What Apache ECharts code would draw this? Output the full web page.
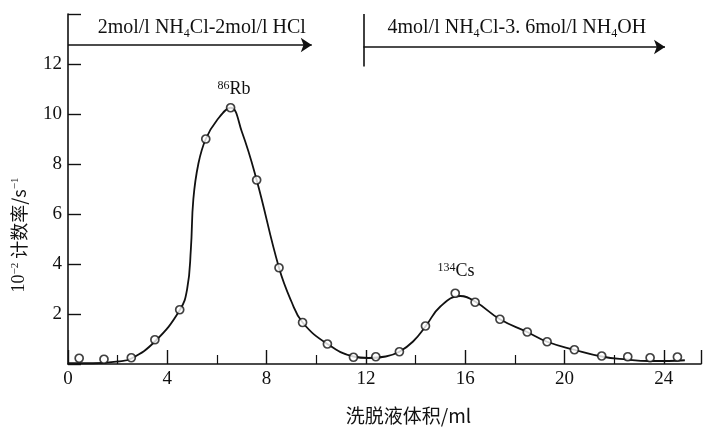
<!DOCTYPE html>
<html lang="zh">
<head>
    <meta charset="UTF-8">
    <title>elution</title>
    <script src="https://cdn.jsdelivr.net/npm/echarts@6/dist/echarts.min.js"></script>
    <style>
        html, body { margin: 0; padding: 0; background: #fff; }
    </style>
</head>
<body>
<div id="main" style="width: 704px;height:430px;"></div>
<script type="text/javascript">
    // measured points (ml, 10^-2 counts/s)
    var pointX = [0.45, 1.45, 2.55, 3.5, 4.5, 5.55, 6.55, 7.6, 8.5, 9.45, 10.45, 11.5,
                  12.4, 13.35, 14.4, 15.6, 16.4, 17.4, 18.5, 19.3, 20.4, 21.5, 22.55, 23.45, 24.55];
    var pointY = [0.23, 0.19, 0.25, 0.97, 2.17, 9.0, 10.25, 7.36, 3.85, 1.66, 0.8, 0.27,
                  0.29, 0.49, 1.52, 2.83, 2.47, 1.79, 1.28, 0.89, 0.57, 0.32, 0.29, 0.25, 0.28];

    // hand drawn curve
    var curveX = [0, 1, 2, 2.55, 3.5, 4.5, 4.8, 4.95, 5.05, 5.25, 5.55, 6.0, 6.55,
                  7.0, 7.6, 8.5, 9.0, 9.45, 10.45, 11.5, 12.1, 12.8, 13.35, 13.9, 14.4,
                  15.0, 15.8, 16.4, 17.4, 18.5, 19.3, 20.4, 21.5, 22.5, 23.4, 24.2, 24.85];
    var curveY = [0.03, 0.03, 0.1, 0.22, 0.9, 2.15, 3.0, 4.6, 6.6, 8.0, 9.0, 9.75, 10.25,
                  9.3, 7.36, 3.85, 2.5, 1.66, 0.8, 0.3, 0.24, 0.3, 0.49, 0.9, 1.5,
                  2.3, 2.72, 2.5, 1.79, 1.28, 0.89, 0.57, 0.3, 0.18, 0.12, 0.12, 0.15];

    var xTicks = [0, 4, 8, 12, 16, 20, 24];
    var yTicks = [2, 4, 6, 8, 10, 12];

    var serif = 'Liberation Serif';
    var ink = '#111';

    var pts = [], crv = [];
    for (var i = 0; i < pointX.length; i++) pts.push([pointX[i], pointY[i]]);
    for (var j = 0; j < curveX.length; j++) crv.push([curveX[j], curveY[j]]);

    var annoRich = {
        t: { fontFamily: serif, fontSize: 20, color: ink },
        sub: { fontFamily: serif, fontSize: 12, color: ink, verticalAlign: 'bottom', padding: [0, 0, -2, 0] },
        p: { fontFamily: serif, fontSize: 18, color: ink },
        sup: { fontFamily: serif, fontSize: 12, color: ink, verticalAlign: 'top' }
    };

    var myChart = echarts.init(document.getElementById('main'));
    var option = {
        animation: false,
        backgroundColor: '#fff',
        grid: { left: 68, right: 0, top: 14, bottom: 66 },
        xAxis: {
            type: 'value',
            min: 0, max: 25.5, interval: 4,
            name: '洗脱液体积/ml',
            nameLocation: 'middle',
            nameGap: 42,
            nameTextStyle: { fontFamily: 'Noto Sans CJK SC', fontSize: 19, color: ink, padding: [0, 0, 0, 48] },
            axisLine: { lineStyle: { color: ink, width: 1.6 } },
            axisTick: { inside: true, length: 14, lineStyle: { color: ink, width: 1.4 } },
            minorTick: { show: true, splitNumber: 2, length: 9, lineStyle: { color: ink, width: 1.2 } },
            splitLine: { show: false },
            axisLabel: {
                margin: 6, fontFamily: serif, fontSize: 19, color: ink,
                formatter: function (v) { return xTicks.indexOf(v) >= 0 ? String(v) : ''; }
            }
        },
        yAxis: {
            type: 'value',
            min: 0, max: 14, interval: 2,
            name: '{a|10}{s|−2}{c| 计数率/s}{s|−1}',
            nameLocation: 'middle',
            nameGap: 40,
            nameRotate: 90,
            nameTextStyle: {
                padding: [0, 92, 0, 0],
                rich: {
                    a: { fontFamily: serif, fontSize: 18, color: ink },
                    c: { fontFamily: 'Noto Sans CJK SC', fontSize: 18, color: ink },
                    s: { fontFamily: serif, fontSize: 11, color: ink, verticalAlign: 'top' }
                }
            },
            axisLine: { lineStyle: { color: ink, width: 1.6 } },
            axisTick: { inside: true, length: 13, lineStyle: { color: ink, width: 1.4 } },
            splitLine: { show: false },
            axisLabel: {
                margin: 6, fontFamily: serif, fontSize: 19, color: ink,
                formatter: function (v) { return yTicks.indexOf(v) >= 0 ? String(v) : ''; }
            }
        },
        series: [
            {
                name: 'curve',
                type: 'line',
                data: crv,
                smooth: 0.45,
                showSymbol: false,
                lineStyle: { color: ink, width: 1.8 },
                markLine: {
                    silent: true,
                    symbol: ['none', 'arrow'],
                    symbolSize: 11,
                    label: { show: false },
                    lineStyle: { color: ink, width: 1.6, type: 'solid' },
                    data: [
                        [{ coord: [0, 12.76] }, { coord: [9.82, 12.76] }],
                        [{ coord: [11.9, 12.68] }, { coord: [24.05, 12.68] }],
                        [{ coord: [11.9, 14], symbol: 'none' }, { coord: [11.9, 11.9], symbol: 'none' }]
                    ]
                },
                markPoint: {
                    silent: true,
                    symbol: 'circle',
                    symbolSize: 0,
                    label: { show: true, position: 'inside', rich: annoRich },
                    data: [
                        { coord: [5.39, 13.44], label: { formatter: '{t|2mol/l NH}{sub|4}{t|Cl-2mol/l HCl}' } },
                        { coord: [18.08, 13.44], label: { formatter: '{t|4mol/l NH}{sub|4}{t|Cl-3. 6mol/l NH}{sub|4}{t|OH}' } },
                        { coord: [6.69, 11.0], label: { formatter: '{sup|86}{p|Rb}' } },
                        { coord: [15.63, 3.72], label: { formatter: '{sup|134}{p|Cs}' } }
                    ]
                }
            },
            {
                name: 'points',
                type: 'scatter',
                data: pts,
                symbol: 'circle',
                symbolSize: 8,
                itemStyle: { color: '#fff', borderColor: ink, borderWidth: 1.7 },
                z: 5
            }
        ]
    };
    myChart.setOption(option);
</script>
</body>
</html>
